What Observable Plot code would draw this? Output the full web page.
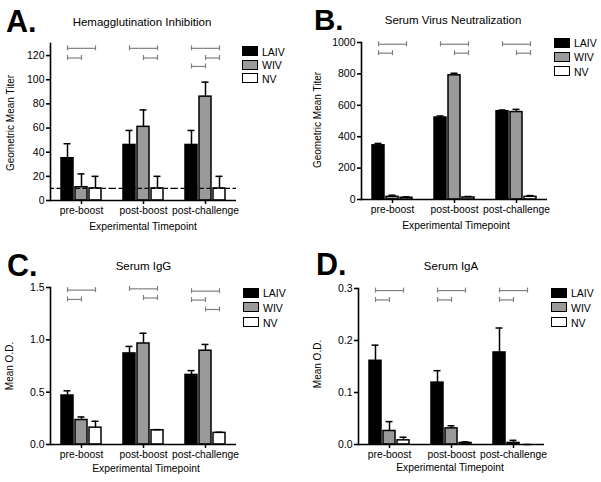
<!DOCTYPE html>
<html>
<head>
<meta charset="utf-8">
<script src="https://cdn.jsdelivr.net/npm/d3@7"></script>
<script src="https://cdn.jsdelivr.net/npm/@observablehq/plot@0.6"></script>
<style>
  body { margin: 0; background: #fff; }
  #fig { position: relative; width: 601px; height: 482px; overflow: hidden; font-family: "Liberation Sans", Arial, Helvetica, sans-serif; color: #000; background: #fff; }
  .panel { position: absolute; }
  .t { position: absolute; white-space: nowrap; line-height: 1; }
  .sw { position: absolute; box-sizing: border-box; border: 1.5px solid #000; }
</style>
</head>
<body>
<div id="fig"></div>
<script>
// ---------- categories ----------
const timepoints = ["pre-boost", "post-boost", "post-challenge"];
const groups = ["LAIV", "WIV", "NV"];
const groupFill = ["#000000", "#9a9a9a", "#ffffff"];

// ---------- A. Hemagglutination Inhibition (geometric mean titer, error) ----------
const hiLAIV = [35, 46, 46];
const hiLAIVErr = [12, 12, 12];
const hiWIV = [11, 61, 86];
const hiWIVErr = [11, 14, 12];
const hiNV = [10, 10, 10];
const hiNVErr = [10, 10, 10];
const hiLimit = 10;
const hiTicks = [0, 20, 40, 60, 80, 100, 120];
const hiBrackets = [
  ["pre-boost", "LAIV", "NV", 126], ["pre-boost", "LAIV", "WIV", 118],
  ["post-boost", "LAIV", "NV", 126], ["post-boost", "WIV", "NV", 118],
  ["post-challenge", "LAIV", "NV", 126], ["post-challenge", "WIV", "NV", 118], ["post-challenge", "LAIV", "WIV", 111]
];

// ---------- B. Serum Virus Neutralization ----------
const svnLAIV = [345, 522, 562];
const svnLAIVErr = [12, 10, 8];
const svnWIV = [17, 791, 557];
const svnWIVErr = [10, 13, 17];
const svnNV = [11, 13, 17];
const svnNVErr = [6, 6, 8];
const svnTicks = [0, 200, 400, 600, 800, 1000];
const svnBrackets = [
  ["pre-boost", "LAIV", "NV", 989], ["pre-boost", "LAIV", "WIV", 932],
  ["post-boost", "LAIV", "NV", 989], ["post-boost", "WIV", "NV", 932],
  ["post-challenge", "LAIV", "NV", 989], ["post-challenge", "WIV", "NV", 932]
];

// ---------- C. Serum IgG (mean O.D.) ----------
const iggLAIV = [0.468, 0.870, 0.665];
const iggLAIVErr = [0.045, 0.067, 0.041];
const iggWIV = [0.234, 0.965, 0.896];
const iggWIVErr = [0.029, 0.098, 0.060];
const iggNV = [0.161, 0.136, 0.111];
const iggNVErr = [0.061, 0.006, 0.006];
const iggTicks = [0, 0.5, 1.0, 1.5];
const iggBrackets = [
  ["pre-boost", "LAIV", "NV", 1.475], ["pre-boost", "LAIV", "WIV", 1.386],
  ["post-boost", "LAIV", "NV", 1.487], ["post-boost", "WIV", "NV", 1.40],
  ["post-challenge", "LAIV", "NV", 1.465], ["post-challenge", "LAIV", "WIV", 1.38], ["post-challenge", "WIV", "NV", 1.29]
];

// ---------- D. Serum IgA (mean O.D.) ----------
const igaLAIV = [0.161, 0.119, 0.177];
const igaLAIVErr = [0.030, 0.023, 0.047];
const igaWIV = [0.026, 0.031, 0.003];
const igaWIVErr = [0.018, 0.005, 0.005];
const igaNV = [0.008, 0.003, 0];
const igaNVErr = [0.006, 0.002, 0];
const igaTicks = [0, 0.1, 0.2, 0.3];
const igaBrackets = [
  ["pre-boost", "LAIV", "NV", 0.296], ["pre-boost", "LAIV", "WIV", 0.278],
  ["post-boost", "LAIV", "NV", 0.296], ["post-boost", "LAIV", "WIV", 0.278],
  ["post-challenge", "LAIV", "NV", 0.296], ["post-challenge", "LAIV", "WIV", 0.278]
];

// ---------- helpers ----------
function rows(series) {
  const out = [];
  timepoints.forEach((tp, i) => series.forEach(([g, m, e]) =>
    out.push({tp, group: g, value: m[i], upper: m[i] + e[i]})));
  return out;
}
function bracketRows(list) {
  return list.map(([tp, from, to, y]) => ({tp, from, to, y}));
}

const FONT = '"Liberation Sans", Arial, Helvetica, sans-serif';
const fig = document.getElementById("fig");

function makePanel(cfg) {
  const brackets = bracketRows(cfg.brackets);
  const ends = brackets.flatMap(b => [{tp: b.tp, x: b.from, y: b.y}, {tp: b.tp, x: b.to, y: b.y}]);
  const marks = [
    Plot.ruleX(cfg.data, {fx: "tp", x: "group", y1: "value", y2: "upper", stroke: "#000", strokeWidth: 1.5}),
    Plot.barY(cfg.data, {fx: "tp", x: "group", y: "value", fill: "group", stroke: "#000", strokeWidth: 1.5}),
    Plot.tickY(cfg.data, {fx: "tp", x: "group", y: "upper", stroke: "#000", strokeWidth: 1.5, insetLeft: 2.5, insetRight: 2.5})
  ];
  if (cfg.limit != null) {
    marks.push(Plot.ruleY([cfg.limit], {stroke: "#000", strokeWidth: 1.3, strokeDasharray: "4,2.5"}));
  }
  marks.push(
    Plot.ruleY([0], {stroke: "#000", strokeWidth: 1.6}),
    Plot.frame({anchor: "left", facetAnchor: "left", stroke: "#000", strokeWidth: 1.6}),
    Plot.link(brackets, {fx: "tp", x1: "from", x2: "to", y1: "y", y2: "y", stroke: "#808080", strokeWidth: 1.2}),
    Plot.ruleX(ends, {fx: "tp", x: "x", y1: "y", y2: "y", stroke: "#808080", strokeWidth: 1.2, insetTop: -2.5, insetBottom: -2.5}),
    Plot.axisY({ticks: cfg.ticks, tickFormat: cfg.tickFormat, tickSize: 4, tickPadding: 2, label: null, strokeWidth: 1.6, fontSize: 10.5}),
    Plot.axisFx({anchor: "bottom", tickSize: 4, tickPadding: 2, label: null, strokeWidth: 1.5, fontSize: 10.3})
  );
  const svg = Plot.plot({
    width: cfg.width, height: cfg.height,
    marginLeft: cfg.marginLeft, marginRight: cfg.marginRight,
    marginTop: cfg.marginTop, marginBottom: cfg.marginBottom,
    style: {fontFamily: FONT, fontSize: "10.5px", color: "#000", background: "transparent", overflow: "visible"},
    fx: {domain: timepoints, paddingInner: 0, paddingOuter: 0, label: null},
    x: {domain: groups, paddingInner: 0.12, paddingOuter: 0.76, axis: null},
    y: {domain: cfg.domain, label: null},
    color: {domain: groups, range: groupFill},
    marks
  });
  const div = document.createElement("div");
  div.className = "panel";
  div.style.left = cfg.left + "px";
  div.style.top = cfg.top + "px";
  div.appendChild(svg);
  fig.appendChild(div);
}

function text(str, {x, y, size = 10, weight = "normal", anchor = "start"}) {
  const d = document.createElement("div");
  d.className = "t";
  d.textContent = str;
  d.style.fontSize = size + "px";
  d.style.fontWeight = weight;
  d.style.left = x + "px";
  d.style.top = (y - 0.8465 * size) + "px";
  if (anchor === "middle") d.style.transform = "translateX(-50%)";
  fig.appendChild(d);
}
function vtext(str, {cx, cy, size = 10}) {
  const d = document.createElement("div");
  d.className = "t";
  d.textContent = str;
  d.style.fontSize = size + "px";
  d.style.left = cx + "px";
  d.style.top = cy + "px";
  d.style.transform = "translate(-50%, -50%) rotate(-90deg)";
  fig.appendChild(d);
}
function legend(x, y, step) {
  groups.forEach((g, i) => {
    const s = document.createElement("div");
    s.className = "sw";
    s.style.left = x + "px";
    s.style.top = (y + i * step) + "px";
    s.style.width = "16px";
    s.style.height = "10px";
    s.style.background = groupFill[i];
    fig.appendChild(s);
    text(g, {x: x + 20, y: y + i * step + 9.5, size: 10.5});
  });
}

const intFmt = d => String(d);
const decFmt = d3.format(".1f");

// ---------- panels ----------
makePanel({
  left: 0, top: 0, width: 300, height: 240,
  marginLeft: 49, marginRight: 63, marginTop: 43, marginBottom: 40,
  data: rows([["LAIV", hiLAIV, hiLAIVErr], ["WIV", hiWIV, hiWIVErr], ["NV", hiNV, hiNVErr]]),
  domain: [0, 130], ticks: hiTicks, tickFormat: intFmt, limit: hiLimit, brackets: hiBrackets
});
makePanel({
  left: 300, top: 0, width: 301, height: 240,
  marginLeft: 61, marginRight: 54, marginTop: 42, marginBottom: 41,
  data: rows([["LAIV", svnLAIV, svnLAIVErr], ["WIV", svnWIV, svnWIVErr], ["NV", svnNV, svnNVErr]]),
  domain: [0, 1000], ticks: svnTicks, tickFormat: intFmt, brackets: svnBrackets
});
makePanel({
  left: 0, top: 240, width: 300, height: 242,
  marginLeft: 49, marginRight: 63, marginTop: 47, marginBottom: 38,
  data: rows([["LAIV", iggLAIV, iggLAIVErr], ["WIV", iggWIV, iggWIVErr], ["NV", iggNV, iggNVErr]]),
  domain: [0, 1.5], ticks: iggTicks, tickFormat: decFmt, brackets: iggBrackets
});
makePanel({
  left: 300, top: 240, width: 301, height: 242,
  marginLeft: 57, marginRight: 56, marginTop: 48, marginBottom: 38,
  data: rows([["LAIV", igaLAIV, igaLAIVErr], ["WIV", igaWIV, igaWIVErr], ["NV", igaNV, igaNVErr]]),
  domain: [0, 0.3], ticks: igaTicks, tickFormat: decFmt, brackets: igaBrackets
});

// ---------- text ----------
text("A.", {x: 6, y: 31.5, size: 30.5, weight: "bold"});
text("B.", {x: 314, y: 30, size: 29.5, weight: "bold"});
text("C.", {x: 7, y: 275.5, size: 30.5, weight: "bold"});
text("D.", {x: 316, y: 274.5, size: 30.5, weight: "bold"});

text("Hemagglutination Inhibition", {x: 142, y: 26.5, size: 11.5, anchor: "middle"});
text("Serum Virus Neutralization", {x: 453, y: 25, size: 11.5, anchor: "middle"});
text("Serum IgG", {x: 143.5, y: 270.5, size: 11.5, anchor: "middle"});
text("Serum IgA", {x: 451, y: 270.5, size: 11.5, anchor: "middle"});

text("Experimental Timepoint", {x: 143, y: 231, size: 10.3, anchor: "middle"});
text("Experimental Timepoint", {x: 456, y: 230, size: 10.3, anchor: "middle"});
text("Experimental Timepoint", {x: 146, y: 473, size: 10.3, anchor: "middle"});
text("Experimental Timepoint", {x: 450, y: 471.5, size: 10.3, anchor: "middle"});

vtext("Geometric Mean Titer", {cx: 11, cy: 123, size: 10});
vtext("Geometric Mean Titer", {cx: 318, cy: 120, size: 10});
vtext("Mean O.D.", {cx: 10, cy: 366, size: 10});
vtext("Mean O.D.", {cx: 318, cy: 364, size: 10});

legend(242, 46, 13.7);
legend(554, 37.5, 14.2);
legend(243, 287.5, 14.8);
legend(551, 287.5, 14.8);
</script>
</body>
</html>
